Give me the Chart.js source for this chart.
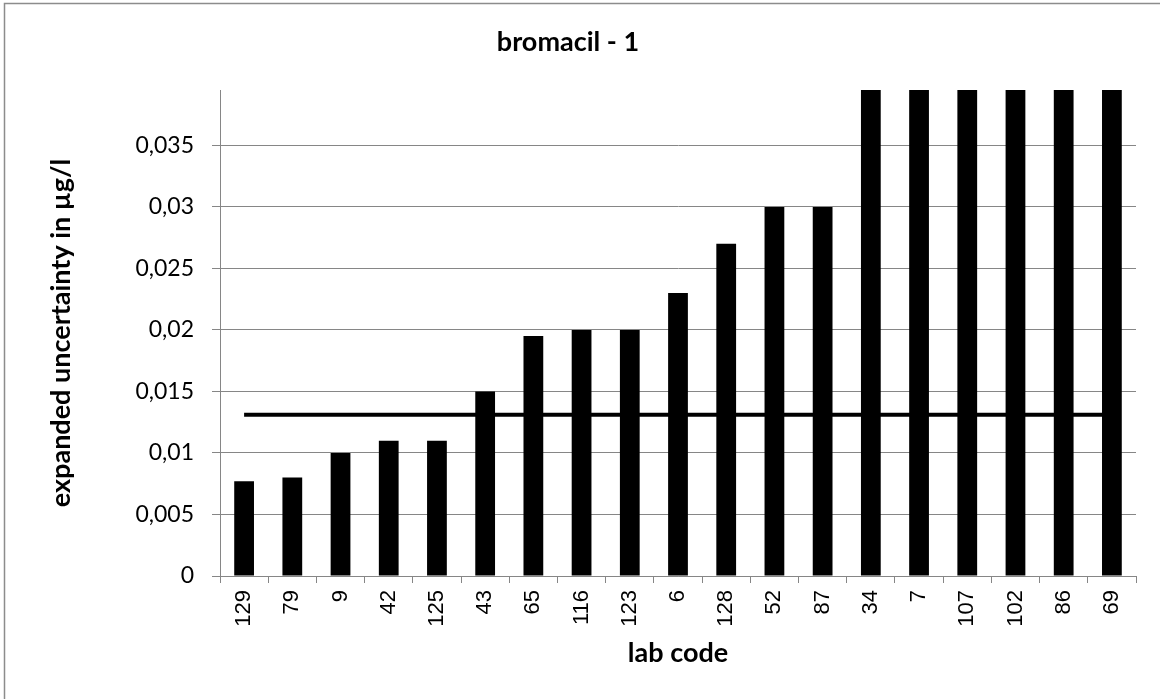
<!DOCTYPE html>
<html>
<head>
<meta charset="utf-8">
<script src="https://cdn.jsdelivr.net/npm/chart.js@4/dist/chart.umd.min.js"></script>
<style>
html,body{margin:0;padding:0;background:#fff;}
#wrap{width:1160px;height:699px;position:relative;}
</style>
</head>
<body>
<div id="wrap"><canvas id="c" width="1160" height="699"></canvas></div>
<script>
const labCodes = ['129','79','9','42','125','43','65','116','123','6','128','52','87','34','7','107','102','86','69'];
const uncertainty = [0.0077,0.008,0.01,0.011,0.011,0.015,0.0195,0.02,0.02,0.023,0.027,0.03,0.03,0.045,0.05,0.05,0.06,0.07,0.08];
const meanLine = [0.0131,0.0131,0.0131,0.0131,0.0131,0.0131,0.0131,0.0131,0.0131,0.0131,0.0131,0.0131,0.0131,0.0131,0.0131,0.0131,0.0131,0.0131,0.0131];
const yTicks = [0,0.005,0.01,0.015,0.02,0.025,0.03,0.035];
const yMax = 0.0395;

const gridGray = '#868686';

const frame = {
  id:'frame',
  beforeDraw(chart){
    const ctx = chart.ctx;
    ctx.save();
    ctx.fillStyle = '#fff';
    ctx.fillRect(0,0,chart.width,chart.height);
    ctx.strokeStyle = '#8c8c8c';
    ctx.lineWidth = 1.5;
    ctx.beginPath();
    ctx.moveTo(4.5, chart.height);
    ctx.lineTo(4.5, 3.5);
    ctx.lineTo(chart.width, 3.5);
    ctx.stroke();
    ctx.restore();
  }
};

new Chart(document.getElementById('c'), {
  data: {
    labels: labCodes,
    datasets: [
      {
        type: 'line',
        data: meanLine,
        borderColor: '#000',
        borderWidth: 4,
        pointRadius: 0,
        fill: false,
        order: 0
      },
      {
        type: 'bar',
        data: uncertainty,
        backgroundColor: '#000',
        borderWidth: 0,
        barPercentage: 0.41,
        categoryPercentage: 1.0,
        order: 1
      }
    ]
  },
  options: {
    responsive: false,
    animation: false,
    layout: { padding: { left: 0, right: 24, top: 0, bottom: 0 } },
    plugins: {
      legend: { display: false },
      tooltip: { enabled: false },
      title: {
        display: true,
        text: 'bromacil - 1',
        color: '#000',
        font: { family: 'Lato', size: 27, weight: 'bold', lineHeight: 1.2 },
        padding: { top: 26, bottom: 31.6 }
      }
    },
    scales: {
      x: {
        offset: true,
        grid: { display: true, drawOnChartArea: false, drawTicks: true, tickLength: 7, color: gridGray, offset: true },
        border: { display: true, color: gridGray, width: 1 },
        ticks: {
          color: '#000',
          font: { family: 'Liberation Sans', size: 22 },
          minRotation: 90, maxRotation: 90,
          padding: 7,
          autoSkip: false
        },
        title: {
          display: true,
          text: 'lab code',
          color: '#000',
          font: { family: 'Lato', size: 27, weight: 'bold', lineHeight: 1.2 },
          padding: { top: 0, bottom: 30 }
        },
        afterFit(s){ s.height = 123; }
      },
      y: {
        min: 0,
        max: yMax,
        grid: { color: gridGray, drawTicks: true, tickLength: 8 },
        border: { display: true, color: gridGray, width: 1 },
        ticks: {
          stepSize: 0.005,
          color: '#000',
          font: { family: 'Lato', size: 23 },
          padding: 18,
          callback: (v) => Number(v.toFixed(3)).toString().replace('.', ',')
        },
        afterBuildTicks(s){ s.ticks = yTicks.map(v => ({ value: v })); },
        title: {
          display: true,
          text: 'expanded uncertainty in µg/l',
          color: '#000',
          font: { family: 'Lato', size: 27, weight: 'bold', lineHeight: 1.2 },
          padding: { top: 45, bottom: 0 }
        },
        afterFit(s){ s.width = 220; }
      }
    }
  },
  plugins: [frame]
});
</script>
</body>
</html>
